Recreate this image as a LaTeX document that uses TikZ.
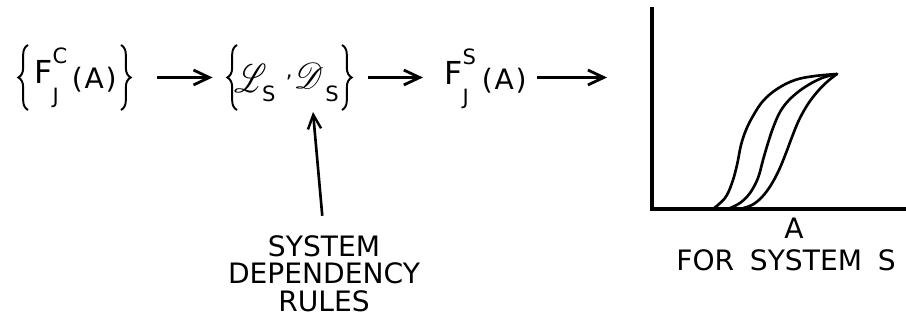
\documentclass[tikz,border=0pt]{standalone}
\usepackage{fontspec}
\setmainfont{DejaVu Sans}
\usepackage{mathrsfs}
\usetikzlibrary{arrows.meta,decorations.pathreplacing}

% lettering sizes
\newcommand\bigF{\fontsize{18}{18}\selectfont}
\newcommand\scr{\fontsize{12}{12}\selectfont}
\newcommand\parenA{\fontsize{16}{16}\selectfont(\kern1pt A\kern1pt)}
% F with a superscript, subscript J and the argument (A)
\newcommand\Fterm[1]{{\bigF F}\rlap{\raisebox{11.5pt}{\scr #1}}\rlap{\raisebox{-11pt}{\scr J}}\kern11pt\raisebox{-2.3pt}{\parenA}}
% a piece placed at a given offset and raise, taking no width
\newcommand\putat[3]{\rlap{\kern#1\raisebox{#2}{#3}}}
% script L and D with subscript S
\newcommand\LDterm{%
  \putat{-3pt}{-1.5pt}{\resizebox{18.5pt}{16pt}{$\mathscr{L}$}}%
  \putat{13pt}{-6.8pt}{\scr S}%
  \putat{26.5pt}{7pt}{\scr,}%
  \putat{31pt}{1pt}{\resizebox{17pt}{14.5pt}{$\mathscr{D}$}}%
  \putat{49pt}{-6.3pt}{\scr S}%
  \kern56pt}

\tikzset{
  lbl/.style={inner sep=0pt, font=\fontsize{16}{15.6}\selectfont},
  grp/.style={inner sep=0pt, minimum height=65*0.02cm},
  brace/.style={decorate, decoration={brace, amplitude=5.5pt}, line width=1.1pt},
  arr/.style={line width=1.8pt, -{Straight Barb[length=9pt, width=8.5pt, line width=1.6pt]}},
  uparr/.style={line width=1.5pt, -{Straight Barb[length=8pt, width=7.5pt, line width=1.4pt]}},
  axis/.style={line width=1.9pt},
  curve/.style={line width=1.5pt, line join=round, line cap=round}
}

\begin{document}
\begin{tikzpicture}[x=0.02cm, y=-0.02cm]
\useasboundingbox (0,0) rectangle (906,327);

% first set of distributions
\node[inner sep=0pt, anchor=base west] (t1) at (34,84) {\Fterm{C}};
\node[grp, minimum width=113*0.02cm] (g1) at (74.5,77.5) {};
\draw[brace] (28,110) -- (28,45);
\draw[brace] (121,45) -- (121,110);

% system logic and dependency rules
\node[inner sep=0pt, anchor=base west] (t2) at (239,90) {\LDterm};
\node[grp, minimum width=125*0.02cm] (g2) at (289.5,77.5) {};
\draw[brace] (237,110) -- (237,45);
\draw[brace] (342,45) -- (342,110);

% resulting system distribution
\node[inner sep=0pt, anchor=base west] (t3) at (444,85) {\Fterm{S}};

% plot axes
\coordinate (origin) at (652,209);
\draw[axis] (652,7) -- (origin) -- (906,209);

% family of curves
\draw[curve] plot[smooth, tension=0.6] coordinates {(713,209) (725,198) (732,183) (737,165) (741,145) (746,130) (753,116) (763,101) (777,89) (795,80) (815,76) (837,74)};
\draw[curve] plot[smooth, tension=0.6] coordinates {(728,209) (740,203) (750,193) (758,178) (763,160) (768,143) (773,128) (780,112) (790,99) (805,87) (822,78) (837,74)};
\draw[curve] plot[smooth, tension=0.6] coordinates {(740,209) (752,205) (762,197) (771,185) (779,170) (786,153) (792,137) (799,120) (808,104) (818,91) (828,81) (837,74)};

\node[lbl, anchor=north] (xlab) at (794,218) {A};
\node[lbl, anchor=north] (cap) at (786,249) {FOR\hspace{9pt}SYSTEM\hspace{9pt}S};

% dependency rules label
\node[lbl, anchor=north, align=center] (rules) at (324,235) {SYSTEM\\DEPENDENCY\\RULES};
\coordinate (tip) at (313,112);

% connectors
\draw[arr, shorten <=14.8pt, shorten >=8pt] (g1.east) -- (g2.west);
\draw[arr, shorten <=9pt, shorten >=12pt] (g2.east) -- (g2.east -| t3.west);
\draw[arr, shorten <=6pt, shorten >=25.6pt] (g2.east -| t3.east) -- (g2.east -| origin);
\draw[uparr, shorten <=11pt] (rules.north) -- (tip);
\end{tikzpicture}
\end{document}
